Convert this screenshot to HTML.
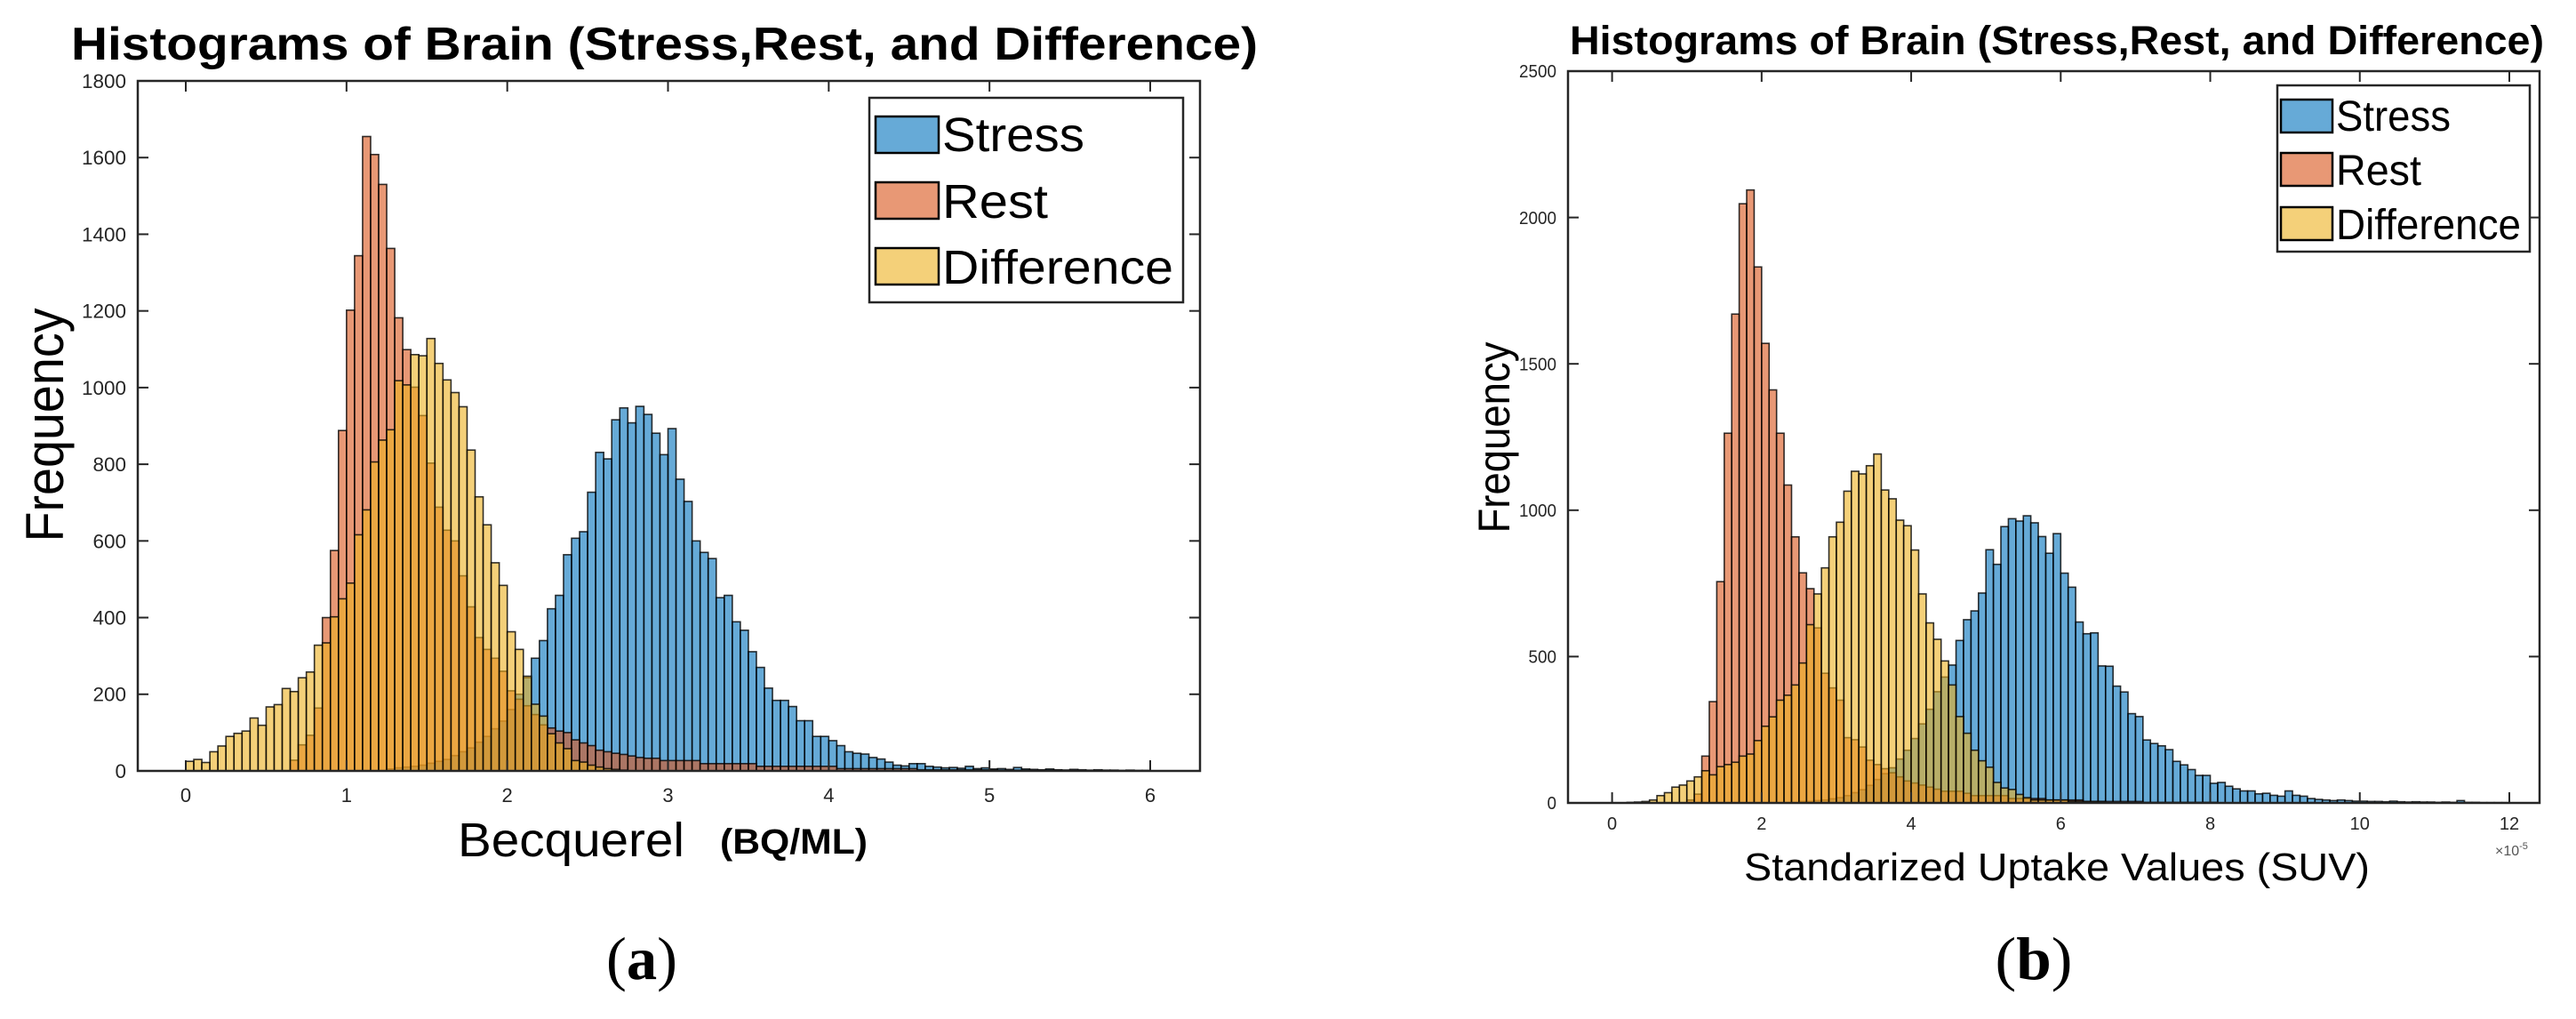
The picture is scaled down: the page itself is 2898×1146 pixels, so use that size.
<!DOCTYPE html>
<html><head><meta charset="utf-8"><style>
html,body{margin:0;padding:0;background:#fff}
svg{display:block}
text{font-family:"Liberation Sans",sans-serif}
</style></head><body>
<svg id="fig" width="2898" height="1146" viewBox="0 0 2898 1146" xmlns="http://www.w3.org/2000/svg">
<rect x="0" y="0" width="2898" height="1146" fill="#fff"/>
<g id="panelA"></g>
<g id="panelB"></g>
<text x="80" y="67" font-size="52" font-weight="bold" textLength="1335" lengthAdjust="spacingAndGlyphs">Histograms of Brain (Stress,Rest, and Difference)</text>
<text x="1766" y="61" font-size="45" font-weight="bold" textLength="1096" lengthAdjust="spacingAndGlyphs">Histograms of Brain (Stress,Rest, and Difference)</text>
<text transform="translate(71,478) rotate(-90)" text-anchor="middle" font-size="60" textLength="263" lengthAdjust="spacingAndGlyphs">Frequency</text>
<text transform="translate(1698,492) rotate(-90)" text-anchor="middle" font-size="50" textLength="215" lengthAdjust="spacingAndGlyphs">Frequency</text>
<text x="515" y="963" font-size="54" textLength="255" lengthAdjust="spacingAndGlyphs">Becquerel</text>
<text x="810" y="960" font-size="40" font-weight="bold" textLength="166" lengthAdjust="spacingAndGlyphs">(BQ/ML)</text>
<text x="1962" y="990" font-size="44" textLength="704" lengthAdjust="spacingAndGlyphs">Standarized Uptake Values (SUV)</text>
<text x="2807" y="962" font-size="16" fill="#555">×10<tspan font-size="11" dy="-7">-5</tspan></text>
<text x="722" y="1101" text-anchor="middle" font-size="68" style="font-family:'Liberation Serif',serif" textLength="80" lengthAdjust="spacingAndGlyphs">(<tspan font-weight="bold">a</tspan>)</text>
<text x="2288" y="1101" text-anchor="middle" font-size="68" style="font-family:'Liberation Serif',serif" textLength="87" lengthAdjust="spacingAndGlyphs">(<tspan font-weight="bold">b</tspan>)</text>
</svg>
<script>
// ---- Panel (a) data: Becquerel, bins of 0.05 from 0 ----
const binStartA = 0;
const binWidthA = 0.05;
const stressA = [0,0,0,0,0,0,0,0,0,0,0,0,0,0,0,0,0,0,0,0,0,0,0,0,0,
5,8,10,12,15,20,25,30,40,50,60,75,90,110,130,160,200,243,
294,340,423,458,564,607,624,727,831,814,916,947,908,951,930,881,825,893,761,703,600,570,554,452,458,389,367,311,270,216,184,184,168,131,131,90,90,79,66,50,46,44,35,31,23,15,13,19,19,12,
10,8,9,7,12,6,8,5,6,4,9,5,4,3,5,3,2,4,3,2,3,2,2,1,2,1,1];
const restA = [0,0,0,0,0,0,0,0,0,0,0,0,0,28,68,93,164,400,575,888,1202,1344,1655,1608,1530,1363,1182,1099,1001,927,803,688,628,600,509,428,348,317,294,260,209,187,170,147,120,112,104,100,81,73,66,54,50,46,43,39,35,33,33,27,27,27,27,27,19,19,19,19,19,19,19,12,12,12,12,12,12,12,12,12,12,6,6,6,6,6,6,6,6,6,6,3,3,3,3,3,3,3,3,3,3,2,2,2,2,2,2,2,2,2,2,1,1,1,1,1,1,1,1,1];
const diffA = [25,30,22,50,65,90,98,104,138,119,167,173,215,207,243,258,328,334,402,449,490,616,681,806,863,890,1018,1007,1086,1083,1128,1063,1020,987,950,837,715,642,543,484,363,317,247,174,143,97,73,58,27,23,15,10,6,4,2];
const xTicksA = [0,1,2,3,4,5,6];
const yTicksA = [0,200,400,600,800,1000,1200,1400,1600,1800];

// ---- Panel (b) data: SUV (x1e-5), bins of 0.1 from 0 ----
const binStartB = 0;
const binWidthB = 0.1;
const stressB = [0,0,0,0,0,0,0,0,0,0,0,0,0,0,0,0,0,0,0,0,0,0,0,0,0,
5,5,8,10,14,18,25,35,45,60,80,100,120,150,180,220,270,320,380,430,471,
555,626,656,717,865,815,944,971,963,981,957,910,853,920,785,737,618,578,581,468,467,399,379,305,295,215,203,195,182,142,130,114,94,94,67,70,57,48,41,41,31,33,26,23,41,26,23,
15,12,10,8,10,8,6,6,5,5,4,6,4,3,4,3,3,2,3,2,8,2,2,1,1,1,1];
const restB = [0,0,0,0,0,0,0,0,0,0,10,30,160,346,756,1263,1670,2047,2094,1831,1570,1411,1263,1086,909,786,732,598,443,393,351,223,216,191,146,131,117,103,89,75,68,61,54,47,40,40,40,33,25,25,25,25,25,15,15,15,15,15,10,10,10,10,10,5,5,5,5,5,5,5,5,2,2,2,2,2,2,2,2,2,2];
const diffB = [0,0,2,3,5,10,25,35,54,61,75,89,110,96,124,131,139,160,167,213,262,294,351,368,403,478,609,714,803,909,959,1065,1133,1124,1152,1192,1069,1039,966,947,864,714,615,559,485,403,295,238,180,144,122,70,51,46,29,18,10,10,10,10,10,5,5,5,5,5];
const xTicksB = [0,2,4,6,8,10,12];
const yTicksB = [0,500,1000,1500,2000,2500];

const seriesNames = ['Stress','Rest','Difference'];
const seriesColors = ['#0072BD','#D95319','#EDB120'];

const NS = 'http://www.w3.org/2000/svg';
function mk(tag, attrs, parent){
  const e = document.createElementNS(NS, tag);
  for (const k in attrs) e.setAttribute(k, attrs[k]);
  parent.appendChild(e);
  return e;
}

function drawPanel(g, cfg, series, binStart, binWidth, xTicks, yTicks){
  const sx = v => cfg.x0 + (v - cfg.xmin) * (cfg.x1 - cfg.x0) / (cfg.xmax - cfg.xmin);
  const sy = v => cfg.yb - (v - cfg.ymin) * (cfg.yb - cfg.yt) / (cfg.ymax - cfg.ymin);
  series.forEach((vals, s) => {
    const sg = document.createElementNS(NS,'g');
    
    
    g.appendChild(sg);
    vals.forEach((v, i) => {
      if (v <= 0) return;
      const xl = sx(binStart + i * binWidth), xr = sx(binStart + (i + 1) * binWidth);
      const r = mk('rect', {x: xl, y: sy(v), width: xr - xl, height: sy(0) - sy(v),
        fill: seriesColors[s], 'fill-opacity': 0.6, stroke: '#000', 'stroke-opacity': 0.8, 'stroke-width': 1.6}, sg);
      
      
    });
  });
  const box = mk('rect', {x: cfg.left, y: cfg.yt, width: cfg.right - cfg.left, height: cfg.yb - cfg.yt, fill: 'none', stroke: '#262626', 'stroke-width': 2.5}, g);
  
  
  xTicks.forEach(t => {
    const x = sx(t);
    mk('line', {x1: x, x2: x, y1: cfg.yb, y2: cfg.yb - 12, stroke: '#262626', 'stroke-width': 2}, g);
    mk('line', {x1: x, x2: x, y1: cfg.yt, y2: cfg.yt + 12, stroke: '#262626', 'stroke-width': 2}, g);
    const tl = mk('text', {x: x, y: cfg.xLabelY, 'text-anchor': 'middle', 'font-size': cfg.tickFont, fill: '#262626'}, g);
    tl.textContent = String(t);
    
    
  });
  yTicks.forEach(t => {
    const y = sy(t);
    mk('line', {x1: cfg.left, x2: cfg.left + 12, y1: y, y2: y, stroke: '#262626', 'stroke-width': 2}, g);
    mk('line', {x1: cfg.right, x2: cfg.right - 12, y1: y, y2: y, stroke: '#262626', 'stroke-width': 2}, g);
    const s = String(t);
    const tl = mk('text', {x: cfg.yLabelX, y: y + cfg.tickFont * 0.36, 'text-anchor': 'end', 'font-size': cfg.tickFont, fill: '#262626', textLength: s.length * cfg.digitW, lengthAdjust: 'spacingAndGlyphs'}, g);
    tl.textContent = s;
    
    
  });
  const L = cfg.legend;
  const lg = document.createElementNS(NS,'g');
  
  
  g.appendChild(lg);
  mk('rect', {x: L.x, y: L.y, width: L.w, height: L.h, fill: '#fff', stroke: '#262626', 'stroke-width': 2.5}, lg);
  seriesNames.forEach((n, s) => {
    const e = document.createElementNS(NS,'g');
    
    
    lg.appendChild(e);
    mk('rect', {x: L.sx, y: L.sy[s], width: L.sw, height: L.sh, fill: seriesColors[s], 'fill-opacity': 0.6, stroke: '#000', 'stroke-width': 2.5}, e);
    const t = mk('text', {x: L.tx, y: L.ty[s], 'font-size': L.font, fill: '#000', textLength: L.tw[s], lengthAdjust: 'spacingAndGlyphs'}, e);
    t.textContent = n;
  });
}

drawPanel(document.getElementById('panelA'), {
  left:155, right:1350, x0:209, x1:1294, xmin:0, xmax:6,
  yt:91, yb:867, ymin:0, ymax:1800, xLabelY:902, yLabelX:142, tickFont:22, digitW:12.5,
  legend:{x:978,y:110,w:353,h:230,sx:985,sw:71,sh:41,sy:[131,205,279],tx:1060,ty:[170,245,319],font:54,tw:[160,119,260]}
}, [stressA, restA, diffA], binStartA, binWidthA, xTicksA, yTicksA);

drawPanel(document.getElementById('panelB'), {
  left:1764, right:2857, x0:1813.6, x1:2823, xmin:0, xmax:12,
  yt:80, yb:903, ymin:0, ymax:2500, xLabelY:933, yLabelX:1751, tickFont:20, digitW:10.5,
  legend:{x:2562,y:96,w:284,h:187,sx:2566,sw:58,sh:37,sy:[112,172,233],tx:2628,ty:[147,208,269],font:48,tw:[129,96,208]}
}, [stressB, restB, diffB], binStartB, binWidthB, xTicksB, yTicksB);
</script>
</body></html>
